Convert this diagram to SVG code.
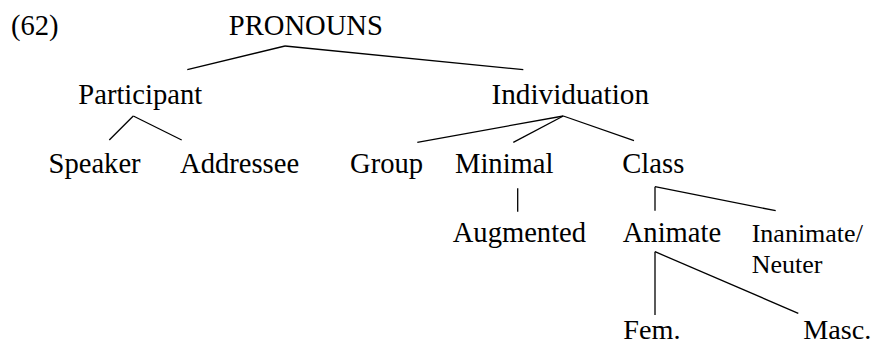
<svg xmlns="http://www.w3.org/2000/svg" width="872" height="340" viewBox="0 0 872 340">
  <style>
    text { font-family: "Liberation Serif", "Times New Roman", serif; font-size: 28.6px; fill: #000; }
    text.small { font-size: 26px; }
    text.leaf { font-size: 28.2px; }
    #connectors line { stroke: #000; stroke-width: 1.3; fill: none; }
  </style>
  <rect width="872" height="340" fill="#fff"/>

  <!-- example number -->
  <g id="label-62"><text x="11" y="35">(62)</text></g>

  <!-- tree nodes -->
  <g id="pronouns"><text x="228.8" y="35">PRONOUNS</text></g>
  <g id="participant"><text x="78.3" y="104">Participant</text></g>
  <g id="individuation"><text x="491.5" y="104" textLength="157.5" lengthAdjust="spacingAndGlyphs">Individuation</text></g>
  <g id="speaker"><text x="48.5" y="173">Speaker</text></g>
  <g id="addressee"><text x="180" y="173">Addressee</text></g>
  <g id="group"><text x="350" y="173">Group</text></g>
  <g id="minimal"><text x="455" y="173">Minimal</text></g>
  <g id="class"><text x="622.3" y="173">Class</text></g>
  <g id="augmented"><text x="452.7" y="241.5">Augmented</text></g>
  <g id="animate"><text x="622.7" y="241.5">Animate</text></g>
  <g id="inanimate-neuter">
    <text class="small" x="751.7" y="241.5">Inanimate/</text>
    <text class="small" x="751.7" y="272.5">Neuter</text>
  </g>
  <g id="fem"><text class="leaf" x="623.3" y="338.5">Fem.</text></g>
  <g id="masc"><text class="leaf" x="803.3" y="338.5">Masc.</text></g>

  <!-- branches -->
  <g id="connectors">
    <line x1="285" y1="46" x2="187.3" y2="69.7"/>
    <line x1="285" y1="46" x2="523.3" y2="69.7"/>
    <line x1="133.3" y1="116" x2="109.3" y2="140"/>
    <line x1="133.3" y1="116" x2="181.7" y2="140"/>
    <line x1="563.3" y1="116" x2="417.3" y2="142.3"/>
    <line x1="563.3" y1="116" x2="513.3" y2="142.3"/>
    <line x1="563.3" y1="116" x2="634" y2="140.7"/>
    <line x1="517.7" y1="188.3" x2="517.7" y2="211.7"/>
    <line x1="655" y1="186.7" x2="655" y2="210.7"/>
    <line x1="655" y1="186.7" x2="775.7" y2="210.7"/>
    <line x1="655" y1="251.7" x2="655" y2="315"/>
    <line x1="655" y1="251.7" x2="798.3" y2="313.3"/>
  </g>
</svg>
